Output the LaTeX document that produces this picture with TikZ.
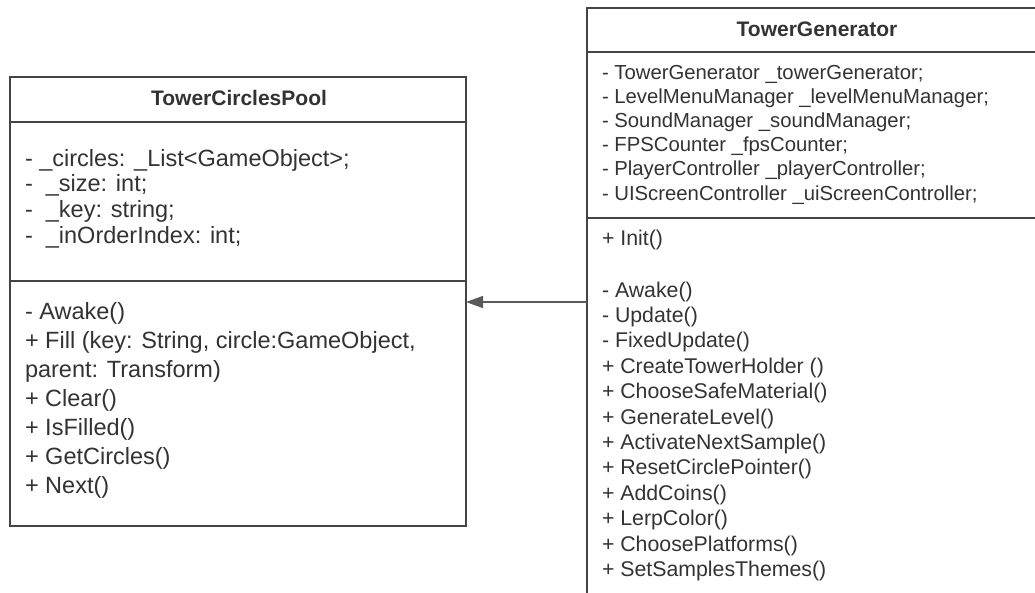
\documentclass[tikz,border=0pt]{standalone}
\usepackage{fontspec}
\setmainfont{Liberation Sans}
\usetikzlibrary{arrows.meta,positioning}

\definecolor{umlline}{HTML}{444444}
\definecolor{umltext}{HTML}{333333}
\definecolor{linkline}{HTML}{5a5a5a}

\tikzset{
  part/.style={draw=umlline, line width=1.8pt, rectangle, anchor=north west},
  title/.style={anchor=base, font=\bfseries\fontsize{21}{25}\selectfont},
  poolmember/.style={anchor=base west, font=\fontsize{23.5}{27}\selectfont},
  poolop/.style={anchor=base west, font=\fontsize{23.5}{28}\selectfont},
  genmember/.style={anchor=base west, font=\fontsize{20.3}{24}\selectfont},
  genop/.style={anchor=base west, font=\fontsize{21.3}{25}\selectfont},
  assoc/.style={draw=linkline, line width=1.3pt, -{Triangle[length=17pt,width=12pt]}}
}

\begin{document}
\begin{tikzpicture}[x=1pt,y=-1pt]
  \tikzstyle{every node} = [inner sep=0pt, outer sep=0pt, text=umltext]
  \useasboundingbox (0,0) rectangle (1035,592);
  \clip (0,0) rectangle (1035,592);
  \fill[white] (0,0) rectangle (1035,592);

  % TowerCirclesPool
  \node[part, minimum width=456pt, minimum height=45pt] (poolhead) at (10,77) {};
  \node[part, minimum width=456pt, minimum height=159pt] (poolattr) at (10,122) {};
  \node[part, minimum width=456pt, minimum height=245pt] (poolops) at (10,281) {};
  \node[title] (poolname) at (239,105) {TowerCirclesPool};
  \foreach \txt [count=\i from 0] in {{- \_circles: \_List<GameObject>;},
      {-\ \ \_size: int;}, {-\ \ \_key: string;}, {-\ \ \_inOrderIndex: int;}}
    \node[poolmember] (pa\i) at (25,{166+25.7*\i}) {\txt};
  \foreach \txt [count=\i from 0] in {{- Awake()},
      {+ Fill (key: String, circle:GameObject,}, {parent: Transform)},
      {+ Clear()}, {+ IsFilled()}, {+ GetCircles()}, {+ Next()}}
    \node[poolop] (po\i) at (25,{319+29*\i}) {\txt};

  % TowerGenerator
  \node[part, minimum width=460pt, minimum height=44pt] (genhead) at (587,8) {};
  \node[part, minimum width=460pt, minimum height=166pt] (genattr) at (587,52) {};
  \node[part, minimum width=460pt, minimum height=400pt] (genops) at (587,218) {};
  \node[title] (genname) at (817,36) {TowerGenerator};
  \foreach \txt [count=\i from 0] in {{- TowerGenerator \_towerGenerator;},
      {- LevelMenuManager \_levelMenuManager;}, {- SoundManager \_soundManager;},
      {- FPSCounter \_fpsCounter;}, {- PlayerController \_playerController;},
      {- UIScreenController \_uiScreenController;}}
    \node[genmember] (ga\i) at (602,{79+24.2*\i}) {\txt};
  \node[genop] (ginit) at (602,245) {+ Init()};
  \foreach \txt [count=\i from 0] in {{- Awake()}, {- Update()}, {- FixedUpdate()},
      {+ CreateTowerHolder ()}, {+ ChooseSafeMaterial()}, {+ GenerateLevel()},
      {+ ActivateNextSample()}, {+ ResetCirclePointer()}, {+ AddCoins()},
      {+ LerpColor()}, {+ ChoosePlatforms()}, {+ SetSamplesThemes()}}
    \node[genop] (go\i) at (602,{297+25.4*\i}) {\txt};

  % association
  \coordinate (link) at (0,302);
  \draw[assoc] (genops.west |- link) -- (poolops.east |- link);
\end{tikzpicture}
\end{document}
